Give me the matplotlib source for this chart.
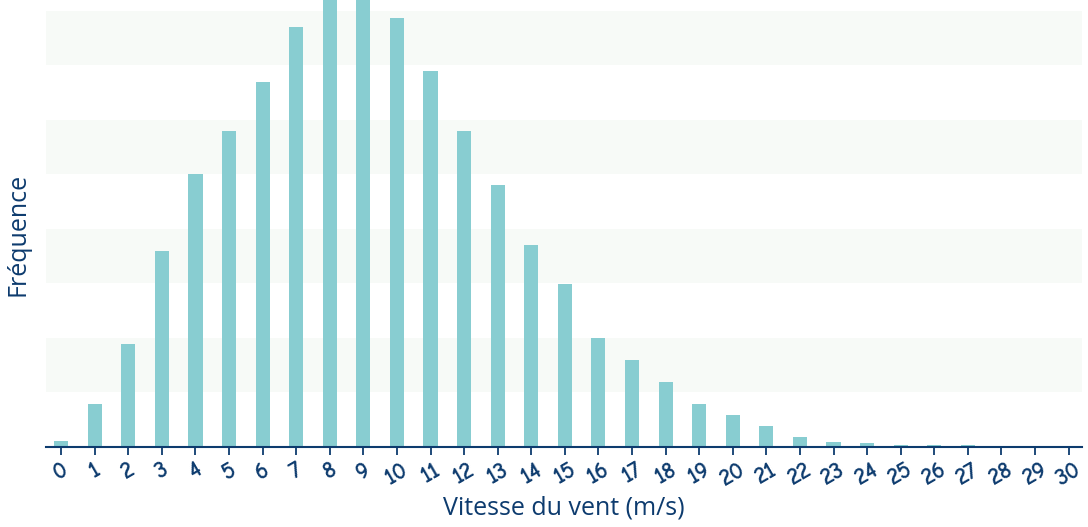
import matplotlib
matplotlib.use("Agg")
import matplotlib.pyplot as plt

# wind speed classes (m/s) and their relative frequency
speeds = list(range(0, 31))
frequency = [0.11, 0.79, 1.89, 3.60, 5.01, 5.80, 6.70, 7.71, 8.35, 8.35,
             7.87, 6.90, 5.80, 4.81, 3.71, 2.99, 2.00, 1.60, 1.19, 0.79,
             0.59, 0.39, 0.18, 0.09, 0.07, 0.04, 0.04, 0.04, 0.0, 0.0, 0.0]

navy = "#0d3b6e"
bar_color = "#88cdd1"
band_color = "#f7faf7"

fig = plt.figure(figsize=(10.88, 5.27), dpi=100)
ax = fig.add_axes([0.0423, 0.1518, 0.9522, 0.8482])

# alternating horizontal bands
for lo in [1, 3, 5, 7]:
    ax.axhspan(lo, lo + 1, color=band_color, zorder=0, lw=0)

ax.bar(speeds, frequency, width=0.42, color=bar_color, zorder=2)

ax.set_xlim(-0.45, 30.4)
ax.set_ylim(0, 8.2)

for side in ["top", "right", "left"]:
    ax.spines[side].set_visible(False)
ax.spines["bottom"].set_color(navy)
ax.spines["bottom"].set_linewidth(1.5)
ax.spines["bottom"].set_zorder(3)

ax.set_yticks([])
ax.set_xticks(speeds)
ax.set_xticklabels([str(s) for s in speeds], rotation=30, ha="center",
                   fontsize=17, fontweight="bold", color=navy,
                   family=["Comic Neue", "Lato", "DejaVu Sans"])
ax.tick_params(axis="x", colors=navy, length=6, width=1.3, pad=3)

ax.set_xlabel("Vitesse du vent (m/s)", fontsize=18, color=navy, family="Open Sans", labelpad=4)
ax.set_ylabel("Fréquence", fontsize=18, color=navy, family="Open Sans")
ax.yaxis.set_label_coords(-0.015, 0.475)

fig.savefig("out.png", dpi=100)
